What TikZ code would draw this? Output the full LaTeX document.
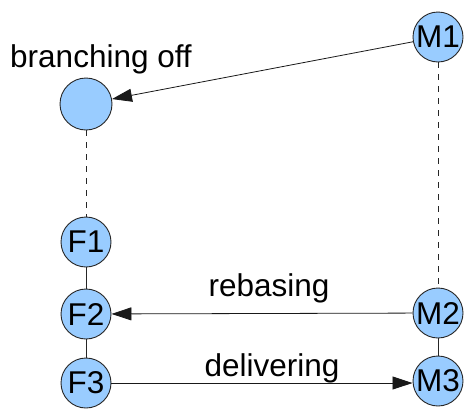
\documentclass[tikz,border=0pt]{standalone}
\usepackage{fontspec}
\setmainfont{Liberation Sans}
\usetikzlibrary{arrows.meta}
\definecolor{nodeblue}{HTML}{99CCFF}
\begin{document}
\begin{tikzpicture}[x=1pt,y=-1pt,
  font=\fontsize{31.5}{36}\selectfont,
  ev/.style={circle,draw=black!85,line width=0.9pt,fill=nodeblue,minimum size=50pt,inner sep=0pt},
  link/.style={line width=0.8pt,draw=black!85},
  dlink/.style={line width=0.8pt,draw=black!85,dash pattern=on 6pt off 6pt},
  arr/.style={line width=0.8pt,draw=black!90,-{Triangle[length=20pt,width=13pt]}},
  lbl/.style={inner sep=0pt}]
\useasboundingbox (0,0) rectangle (466,408);
\node[ev] (M1) at (438,37) {M1};
\node[ev,minimum size=52pt] (B) at (86,104) {};
\node[ev] (F1) at (86,242) {F1};
\node[ev] (F2) at (86,314) {F2};
\node[ev] (F3) at (86,383) {F3};
\node[ev] (M2) at (438,313) {M2};
\node[ev] (M3) at (438,381) {M3};
\node[lbl] (lb) at (101,59) {branching off};
\node[lbl] (lr) at (269,288) {rebasing};
\node[lbl] (ld) at (272,368) {delivering};
\draw[dlink] (B) -- (F1);
\draw[dlink] (M1) -- (M2);
\draw[link] (F1) -- (F2);
\draw[link] (F2) -- (F3);
\draw[link] (M2) -- (M3);
\draw[arr] (M1) -- (B);
\draw[arr] (M2) -- (F2);
\draw[arr] (F3.east) -- (M3.west |- F3.east);
\end{tikzpicture}
\end{document}
